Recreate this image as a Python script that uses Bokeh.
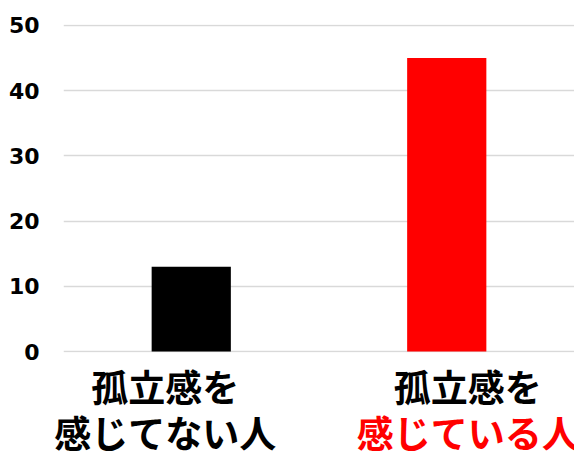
from bokeh.plotting import figure
from bokeh.models import Range1d, FixedTicker
from bokeh.core.properties import value
from bokeh.embed import file_html
from bokeh.resources import INLINE

# Data
categories_line1 = ["孤立感を", "孤立感を"]
categories_line2 = ["感じてない人", "感じている人"]
values = [13, 45]
bar_colors = ["#000000", "#FF0000"]
line2_colors = ["#000000", "#FF0000"]
y_ticks = [0, 10, 20, 30, 40, 50]

xs = list(range(len(values)))

W = 574
LEFT = 63
frame_w = W - LEFT
px_per_unit = frame_w / len(values)

BOTTOM = 14
H1 = 352 + BOTTOM
p = figure(width=W, height=H1, output_backend="svg", toolbar_location=None,
           x_range=Range1d(-0.5, len(values) - 0.5), y_range=Range1d(-0.15, 50.15),
           min_border_left=LEFT, min_border_right=0, min_border_top=24,
           min_border_bottom=BOTTOM)
p.outline_line_color = None
p.background_fill_color = "white"
p.border_fill_color = "white"

p.vbar(x=xs, top=values, width=0.31, color=bar_colors, line_color=None)

p.xaxis.visible = False
p.xgrid.visible = False
p.ygrid.grid_line_color = "#d9d9d9"
p.ygrid.grid_line_width = 1.5

ya = p.yaxis[0]
ya.ticker = FixedTicker(ticks=y_ticks)
ya.axis_line_color = None
ya.major_tick_line_color = None
ya.minor_tick_line_color = None
ya.major_tick_in = 0
ya.major_tick_out = 0
ya.major_label_standoff = 24
ya.major_label_text_font = "DejaVu Sans"
ya.major_label_text_font_style = "bold"
ya.major_label_text_font_size = "22px"
ya.major_label_text_color = "#000000"

# category labels (two lines) in a strip under the chart, same x scale
H2 = 452 - H1
x0 = -0.5 - LEFT / px_per_unit
q = figure(width=W, height=H2, output_backend="svg", toolbar_location=None,
           x_axis_location=None, y_axis_location=None,
           x_range=Range1d(x0, len(values) - 0.5), y_range=Range1d(H2, 0),
           min_border_left=0, min_border_right=0, min_border_top=0,
           min_border_bottom=0)
q.grid.visible = False
q.outline_line_color = None
q.background_fill_color = "white"
q.border_fill_color = "white"

x_shift = [-26, 21]
line1_y = [385 - H1] * len(xs)
line2_y = [431 - H1] * len(xs)
lx = [x + s / px_per_unit for x, s in zip(xs, x_shift)]
q.text(x=lx, y=line1_y, text=categories_line1, text_align="center",
       text_baseline="middle", text_font=value("Noto Sans CJK JP"),
       text_font_style="bold", text_font_size="37px", text_color="#000000")
q.text(x=lx, y=line2_y, text=categories_line2, text_align="center",
       text_baseline="middle", text_font=value("Noto Sans CJK JP"),
       text_font_style="bold", text_font_size="37px", text_color=line2_colors)

open("out.html", "w").write(file_html([p, q], INLINE))
